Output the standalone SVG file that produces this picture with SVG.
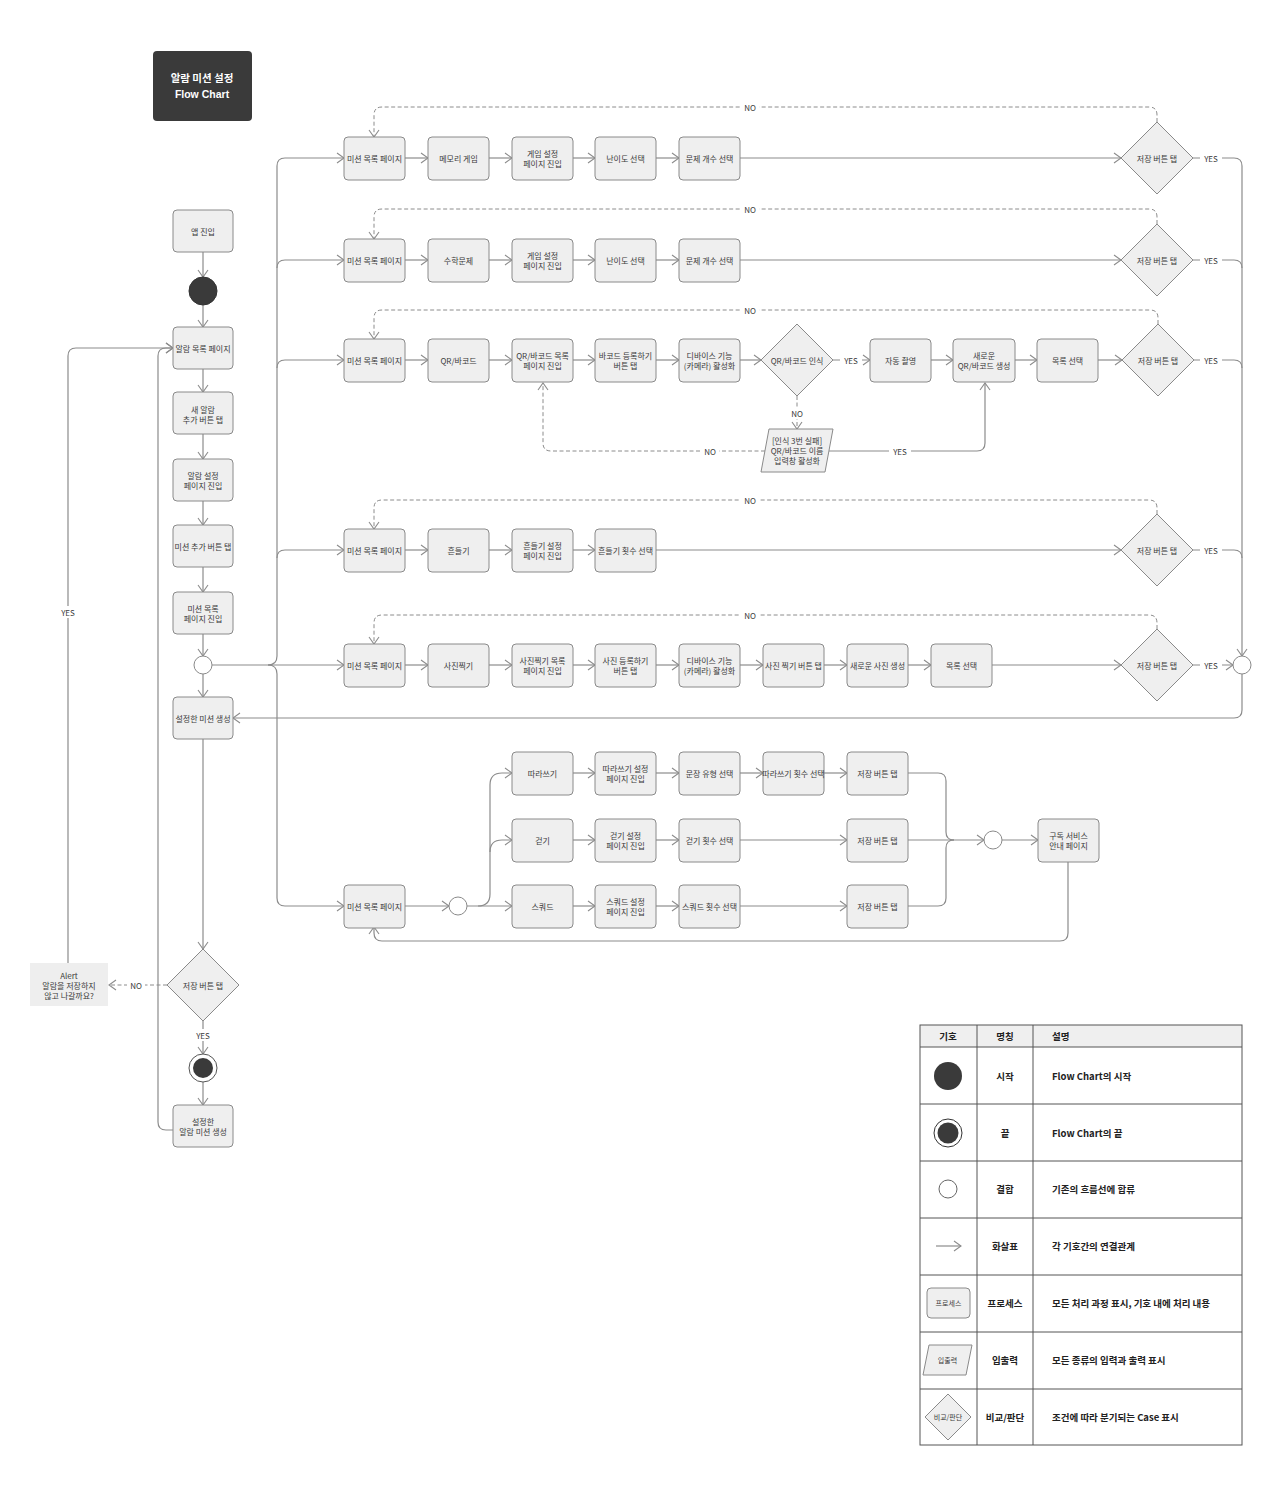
<svg xmlns="http://www.w3.org/2000/svg" width="1280" height="1496" viewBox="0 0 1280 1496">
<style>
text{font-family:"Noto Sans CJK KR","Noto Sans",sans-serif;fill:#3a3a3a;font-size:8px;text-anchor:middle;dominant-baseline:central}
.box{fill:#efefef;stroke:#8a8a8a;stroke-width:1}
.ln{fill:none;stroke:#8c8c8c;stroke-width:1.2}
.dl{fill:none;stroke:#8c8c8c;stroke-width:1;stroke-dasharray:4 2.5}
.lbl{fill:#fff}
.lg{font-size:9.5px;font-weight:600;fill:#222}
.lgl{font-size:9.5px;font-weight:600;fill:#222;text-anchor:start}
.tb{fill:none;stroke:#555;stroke-width:1}
</style>
<defs>
<marker id="a" markerUnits="userSpaceOnUse" markerWidth="9" markerHeight="12" viewBox="0 0 9 12" refX="8" refY="6" orient="auto"><path d="M1,1 L8,6 L1,11" fill="none" stroke="#8c8c8c" stroke-width="1.1"/></marker>
</defs>
<rect width="1280" height="1496" fill="#fff"/>

<g id="title"><rect x="153" y="51" width="99" height="70" rx="4" fill="#3a3a3a"/><text x="202" y="77" style="fill:#fff;font-size:10.5px;font-weight:700">알람 미션 설정</text><text x="202" y="94" style="fill:#fff;font-size:10.5px;font-weight:700;font-family:'Liberation Sans',sans-serif">Flow Chart</text></g>

<g id="connectors">
<!-- left column -->
<path class="ln" d="M203 252 V277" marker-end="url(#a)"/>
<path class="ln" d="M203 305 V327" marker-end="url(#a)"/>
<path class="ln" d="M203 369 V392" marker-end="url(#a)"/>
<path class="ln" d="M203 434 V459" marker-end="url(#a)"/>
<path class="ln" d="M203 501 V525" marker-end="url(#a)"/>
<path class="ln" d="M203 567 V592" marker-end="url(#a)"/>
<path class="ln" d="M203 634 V656" marker-end="url(#a)"/>
<path class="ln" d="M203 674 V697" marker-end="url(#a)"/>
<path class="ln" d="M203 739 V949" marker-end="url(#a)"/>
<path class="ln" d="M203 1021 V1054" marker-end="url(#a)"/>
<path class="ln" d="M203 1082 V1105" marker-end="url(#a)"/>
<path class="dl" d="M167 985 H109" marker-end="url(#a)"/>
<path class="ln" d="M68 963 V356 Q68 348 76 348 H173" marker-end="url(#a)"/>
<path class="ln" d="M173 1130 H166 Q158 1130 158 1122 V356 Q158 348 166 348 H173" marker-end="url(#a)"/>
<!-- trunk -->
<path class="ln" d="M212 665 H344" marker-end="url(#a)"/>
<path class="ln" d="M268 665 Q277 665 277 656 V166 Q277 158 285 158 H344" marker-end="url(#a)"/>
<path class="ln" d="M277 268 Q277 260 285 260 H344" marker-end="url(#a)"/>
<path class="ln" d="M277 368 Q277 360 285 360 H344" marker-end="url(#a)"/>
<path class="ln" d="M277 558 Q277 550 285 550 H344" marker-end="url(#a)"/>
<path class="ln" d="M268 665 Q277 665 277 674 V898 Q277 906 285 906 H344" marker-end="url(#a)"/>
<!-- row 1 -->
<path class="ln" d="M405 158 H428" marker-end="url(#a)"/>
<path class="ln" d="M489 158 H512" marker-end="url(#a)"/>
<path class="ln" d="M573 158 H595" marker-end="url(#a)"/>
<path class="ln" d="M656 158 H679" marker-end="url(#a)"/>
<path class="ln" d="M740 158 H1121" marker-end="url(#a)"/>
<path class="dl" d="M1157 122 V115 Q1157 107 1149 107 H382 Q374 107 374 115 V137" marker-end="url(#a)"/>
<!-- row 2 -->
<path class="ln" d="M405 260 H428" marker-end="url(#a)"/>
<path class="ln" d="M489 260 H512" marker-end="url(#a)"/>
<path class="ln" d="M573 260 H595" marker-end="url(#a)"/>
<path class="ln" d="M656 260 H679" marker-end="url(#a)"/>
<path class="ln" d="M740 260 H1121" marker-end="url(#a)"/>
<path class="dl" d="M1157 224 V217 Q1157 209 1149 209 H382 Q374 209 374 217 V239" marker-end="url(#a)"/>
<!-- row 3 -->
<path class="ln" d="M405 360 H428" marker-end="url(#a)"/>
<path class="ln" d="M489 360 H512" marker-end="url(#a)"/>
<path class="ln" d="M573 360 H595" marker-end="url(#a)"/>
<path class="ln" d="M656 360 H679" marker-end="url(#a)"/>
<path class="ln" d="M740 360 H761" marker-end="url(#a)"/>
<path class="ln" d="M833 360 H870" marker-end="url(#a)"/>
<path class="ln" d="M931 360 H953" marker-end="url(#a)"/>
<path class="ln" d="M1015 360 H1037" marker-end="url(#a)"/>
<path class="ln" d="M1098 360 H1122" marker-end="url(#a)"/>
<path class="dl" d="M1158 324 V318 Q1158 310 1150 310 H382 Q374 310 374 318 V339" marker-end="url(#a)"/>
<path class="dl" d="M797 396 V429" marker-end="url(#a)"/>
<path class="dl" d="M765 451 H551 Q543 451 543 443 V383" marker-end="url(#a)"/>
<path class="ln" d="M829 451 H977 Q985 451 985 443 V383" marker-end="url(#a)"/>
<!-- row 4 -->
<path class="ln" d="M405 550 H428" marker-end="url(#a)"/>
<path class="ln" d="M489 550 H512" marker-end="url(#a)"/>
<path class="ln" d="M573 550 H595" marker-end="url(#a)"/>
<path class="ln" d="M656 550 H1121" marker-end="url(#a)"/>
<path class="dl" d="M1157 514 V508 Q1157 500 1149 500 H382 Q374 500 374 508 V529" marker-end="url(#a)"/>
<!-- row 5 -->
<path class="ln" d="M405 665 H428" marker-end="url(#a)"/>
<path class="ln" d="M489 665 H512" marker-end="url(#a)"/>
<path class="ln" d="M573 665 H595" marker-end="url(#a)"/>
<path class="ln" d="M656 665 H679" marker-end="url(#a)"/>
<path class="ln" d="M740 665 H763" marker-end="url(#a)"/>
<path class="ln" d="M824 665 H847" marker-end="url(#a)"/>
<path class="ln" d="M908 665 H931" marker-end="url(#a)"/>
<path class="ln" d="M992 665 H1121" marker-end="url(#a)"/>
<path class="dl" d="M1157 629 V623 Q1157 615 1149 615 H382 Q374 615 374 623 V644" marker-end="url(#a)"/>
<!-- YES merges -->
<path class="ln" d="M1193 158 H1234 Q1242 158 1242 166 V656" marker-end="url(#a)"/>
<path class="ln" d="M1193 260 H1234 Q1242 260 1242 268"/>
<path class="ln" d="M1194 360 H1234 Q1242 360 1242 368"/>
<path class="ln" d="M1193 550 H1234 Q1242 550 1242 558"/>
<path class="ln" d="M1193 665 H1233" marker-end="url(#a)"/>
<path class="ln" d="M1242 674 V710 Q1242 718 1234 718 H233" marker-end="url(#a)"/>
<!-- bottom section -->
<path class="ln" d="M405 906 H449" marker-end="url(#a)"/>
<path class="ln" d="M467 906 H512" marker-end="url(#a)"/>
<path class="ln" d="M478 906 Q490 906 490 894 V785 Q490 773 502 773 H512" marker-end="url(#a)"/>
<path class="ln" d="M490 852 Q490 840 502 840 H512" marker-end="url(#a)"/>
<path class="ln" d="M573 773 H595" marker-end="url(#a)"/>
<path class="ln" d="M656 773 H679" marker-end="url(#a)"/>
<path class="ln" d="M740 773 H763" marker-end="url(#a)"/>
<path class="ln" d="M824 773 H847" marker-end="url(#a)"/>
<path class="ln" d="M573 840 H595" marker-end="url(#a)"/>
<path class="ln" d="M656 840 H679" marker-end="url(#a)"/>
<path class="ln" d="M740 840 H847" marker-end="url(#a)"/>
<path class="ln" d="M573 906 H595" marker-end="url(#a)"/>
<path class="ln" d="M656 906 H679" marker-end="url(#a)"/>
<path class="ln" d="M740 906 H847" marker-end="url(#a)"/>
<path class="ln" d="M908 773 H938 Q946 773 946 781 V832 Q946 840 954 840"/>
<path class="ln" d="M908 906 H938 Q946 906 946 898 V848 Q946 840 954 840"/>
<path class="ln" d="M908 840 H984" marker-end="url(#a)"/>
<path class="ln" d="M1002 840 H1038" marker-end="url(#a)"/>
<path class="ln" d="M1068 861 V933 Q1068 941 1060 941 H382 Q374 941 374 933 V927" marker-end="url(#a)"/>
<!-- labels -->
<g>
<rect class="lbl" x="741" y="102" width="18" height="10"/><text x="750" y="107">NO</text>
<rect class="lbl" x="741" y="204" width="18" height="10"/><text x="750" y="209">NO</text>
<rect class="lbl" x="741" y="305" width="18" height="10"/><text x="750" y="310">NO</text>
<rect class="lbl" x="741" y="495" width="18" height="10"/><text x="750" y="500">NO</text>
<rect class="lbl" x="741" y="610" width="18" height="10"/><text x="750" y="615">NO</text>
<rect class="lbl" x="1200" y="153" width="22" height="10"/><text x="1211" y="158">YES</text>
<rect class="lbl" x="1200" y="255" width="22" height="10"/><text x="1211" y="260">YES</text>
<rect class="lbl" x="1200" y="355" width="22" height="10"/><text x="1211" y="360">YES</text>
<rect class="lbl" x="1200" y="545" width="22" height="10"/><text x="1211" y="550">YES</text>
<rect class="lbl" x="1200" y="660" width="22" height="10"/><text x="1211" y="665">YES</text>
<rect class="lbl" x="840" y="355" width="22" height="10"/><text x="851" y="360">YES</text>
<rect class="lbl" x="788" y="407" width="18" height="12"/><text x="797" y="413">NO</text>
<rect class="lbl" x="701" y="446" width="18" height="10"/><text x="710" y="451">NO</text>
<rect class="lbl" x="889" y="446" width="22" height="10"/><text x="900" y="451">YES</text>
<rect class="lbl" x="57" y="606" width="22" height="12"/><text x="68" y="612">YES</text>
<rect class="lbl" x="127" y="980" width="18" height="10"/><text x="136" y="985">NO</text>
<rect class="lbl" x="191" y="1029" width="24" height="12"/><text x="203" y="1035">YES</text>
</g>
</g>

<!-- left column nodes -->
<g id="app-entry"><rect class="box" x="173" y="210" width="60" height="42" rx="4"/><text x="203" y="231">앱 진입</text></g>
<g id="start"><circle cx="203" cy="291" r="14" fill="#3a3a3a" stroke="#333"/></g>
<g id="alarm-list"><rect class="box" x="173" y="327" width="60" height="42" rx="4"/><text x="203" y="348">알람 목록 페이지</text></g>
<g id="new-alarm"><rect class="box" x="173" y="392" width="60" height="42" rx="4"/><text x="203" y="409">새 알람</text><text x="203" y="419">추가 버튼 탭</text></g>
<g id="alarm-setting"><rect class="box" x="173" y="459" width="60" height="42" rx="4"/><text x="203" y="475">알람 설정</text><text x="203" y="485">페이지 진입</text></g>
<g id="add-mission"><rect class="box" x="173" y="525" width="60" height="42" rx="4"/><text x="203" y="546">미션 추가 버튼 탭</text></g>
<g id="mission-list-entry"><rect class="box" x="173" y="592" width="60" height="42" rx="4"/><text x="203" y="608">미션 목록</text><text x="203" y="618">페이지 진입</text></g>
<g id="junction-left"><circle cx="203" cy="665" r="9" fill="#fff" stroke="#8a8a8a"/></g>
<g id="mission-created"><rect class="box" x="173" y="697" width="60" height="42" rx="4"/><text x="203" y="718">설정한 미션 생성</text></g>
<g id="save-main"><polygon class="box" points="203,949 239,985 203,1021 167,985" stroke-linejoin="round"/><text x="203" y="985">저장 버튼 탭</text></g>
<g id="alert"><rect x="30" y="963" width="78" height="43" fill="#eeeeee"/><text x="69" y="975">Alert</text><text x="69" y="985">알람을 저장하지</text><text x="69" y="995">않고 나갈까요?</text></g>
<g id="end"><circle cx="203" cy="1068" r="14" fill="#fff" stroke="#555"/><circle cx="203" cy="1068" r="10" fill="#3a3a3a"/></g>
<g id="alarm-mission-created"><rect class="box" x="173" y="1105" width="60" height="42" rx="4"/><text x="203" y="1121">설정한</text><text x="203" y="1131">알람 미션 생성</text></g>

<!-- row 1 -->
<g id="r1-list"><rect class="box" x="344" y="137" width="61" height="43" rx="4"/><text x="374.5" y="158">미션 목록 페이지</text></g>
<g id="r1-memory"><rect class="box" x="428" y="137" width="61" height="43" rx="4"/><text x="458.5" y="158">메모리 게임</text></g>
<g id="r1-setting"><rect class="box" x="512" y="137" width="61" height="43" rx="4"/><text x="542.5" y="153">게임 설정</text><text x="542.5" y="163">페이지 진입</text></g>
<g id="r1-level"><rect class="box" x="595" y="137" width="61" height="43" rx="4"/><text x="625.5" y="158">난이도 선택</text></g>
<g id="r1-count"><rect class="box" x="679" y="137" width="61" height="43" rx="4"/><text x="709.5" y="158">문제 개수 선택</text></g>
<g id="r1-save"><polygon class="box" points="1157,122 1193,158 1157,194 1121,158" stroke-linejoin="round"/><text x="1157" y="158">저장 버튼 탭</text></g>

<!-- row 2 -->
<g id="r2-list"><rect class="box" x="344" y="239" width="61" height="43" rx="4"/><text x="374.5" y="260">미션 목록 페이지</text></g>
<g id="r2-math"><rect class="box" x="428" y="239" width="61" height="43" rx="4"/><text x="458.5" y="260">수학문제</text></g>
<g id="r2-setting"><rect class="box" x="512" y="239" width="61" height="43" rx="4"/><text x="542.5" y="255">게임 설정</text><text x="542.5" y="265">페이지 진입</text></g>
<g id="r2-level"><rect class="box" x="595" y="239" width="61" height="43" rx="4"/><text x="625.5" y="260">난이도 선택</text></g>
<g id="r2-count"><rect class="box" x="679" y="239" width="61" height="43" rx="4"/><text x="709.5" y="260">문제 개수 선택</text></g>
<g id="r2-save"><polygon class="box" points="1157,224 1193,260 1157,296 1121,260" stroke-linejoin="round"/><text x="1157" y="260">저장 버튼 탭</text></g>

<!-- row 3 -->
<g id="r3-list"><rect class="box" x="344" y="339" width="61" height="43" rx="4"/><text x="374.5" y="360">미션 목록 페이지</text></g>
<g id="r3-qr"><rect class="box" x="428" y="339" width="61" height="43" rx="4"/><text x="458.5" y="360">QR/바코드</text></g>
<g id="r3-qrlist"><rect class="box" x="512" y="339" width="61" height="43" rx="4"/><text x="542.5" y="355">QR/바코드 목록</text><text x="542.5" y="365">페이지 진입</text></g>
<g id="r3-register"><rect class="box" x="595" y="339" width="61" height="43" rx="4"/><text x="625.5" y="355">바코드 등록하기</text><text x="625.5" y="365">버튼 탭</text></g>
<g id="r3-camera"><rect class="box" x="679" y="339" width="61" height="43" rx="4"/><text x="709.5" y="355">디바이스 기능</text><text x="709.5" y="365">(카메라) 활성화</text></g>
<g id="r3-recognize"><polygon class="box" points="797,324 833,360 797,396 761,360" stroke-linejoin="round"/><text x="797" y="360">QR/바코드 인식</text></g>
<g id="r3-auto"><rect class="box" x="870" y="339" width="61" height="43" rx="4"/><text x="900.5" y="360">자동 촬영</text></g>
<g id="r3-new"><rect class="box" x="953" y="339" width="62" height="43" rx="4"/><text x="984" y="355">새로운</text><text x="984" y="365">QR/바코드 생성</text></g>
<g id="r3-select"><rect class="box" x="1037" y="339" width="61" height="43" rx="4"/><text x="1067.5" y="360">목록 선택</text></g>
<g id="r3-save"><polygon class="box" points="1158,324 1194,360 1158,396 1122,360" stroke-linejoin="round"/><text x="1158" y="360">저장 버튼 탭</text></g>
<g id="r3-input"><polygon class="box" points="769,429 833,429 825,472 761,472" stroke-linejoin="round"/><text x="797" y="440">[인식 3번 실패]</text><text x="797" y="450">QR/바코드 이름</text><text x="797" y="460">입력창 활성화</text></g>

<!-- row 4 -->
<g id="r4-list"><rect class="box" x="344" y="529" width="61" height="43" rx="4"/><text x="374.5" y="550">미션 목록 페이지</text></g>
<g id="r4-shake"><rect class="box" x="428" y="529" width="61" height="43" rx="4"/><text x="458.5" y="550">흔들기</text></g>
<g id="r4-setting"><rect class="box" x="512" y="529" width="61" height="43" rx="4"/><text x="542.5" y="545">흔들기 설정</text><text x="542.5" y="555">페이지 진입</text></g>
<g id="r4-count"><rect class="box" x="595" y="529" width="61" height="43" rx="4"/><text x="625.5" y="550">흔들기 횟수 선택</text></g>
<g id="r4-save"><polygon class="box" points="1157,514 1193,550 1157,586 1121,550" stroke-linejoin="round"/><text x="1157" y="550">저장 버튼 탭</text></g>

<!-- row 5 -->
<g id="r5-list"><rect class="box" x="344" y="644" width="61" height="43" rx="4"/><text x="374.5" y="665">미션 목록 페이지</text></g>
<g id="r5-photo"><rect class="box" x="428" y="644" width="61" height="43" rx="4"/><text x="458.5" y="665">사진찍기</text></g>
<g id="r5-photolist"><rect class="box" x="512" y="644" width="61" height="43" rx="4"/><text x="542.5" y="660">사진찍기 목록</text><text x="542.5" y="670">페이지 진입</text></g>
<g id="r5-register"><rect class="box" x="595" y="644" width="61" height="43" rx="4"/><text x="625.5" y="660">사진 등록하기</text><text x="625.5" y="670">버튼 탭</text></g>
<g id="r5-camera"><rect class="box" x="679" y="644" width="61" height="43" rx="4"/><text x="709.5" y="660">디바이스 기능</text><text x="709.5" y="670">(카메라) 활성화</text></g>
<g id="r5-shoot"><rect class="box" x="763" y="644" width="61" height="43" rx="4"/><text x="793.5" y="665">사진 찍기 버튼 탭</text></g>
<g id="r5-new"><rect class="box" x="847" y="644" width="61" height="43" rx="4"/><text x="877.5" y="665">새로운 사진 생성</text></g>
<g id="r5-select"><rect class="box" x="931" y="644" width="61" height="43" rx="4"/><text x="961.5" y="665">목록 선택</text></g>
<g id="r5-save"><polygon class="box" points="1157,629 1193,665 1157,701 1121,665" stroke-linejoin="round"/><text x="1157" y="665">저장 버튼 탭</text></g>
<g id="junction-right"><circle cx="1242" cy="665" r="9" fill="#fff" stroke="#8a8a8a"/></g>

<!-- bottom section -->
<g id="b-list"><rect class="box" x="344" y="885" width="61" height="43" rx="4"/><text x="374.5" y="906">미션 목록 페이지</text></g>
<g id="b-junction"><circle cx="458" cy="906" r="9" fill="#fff" stroke="#8a8a8a"/></g>
<g id="ba-write"><rect class="box" x="512" y="752" width="61" height="43" rx="4"/><text x="542.5" y="773">따라쓰기</text></g>
<g id="ba-setting"><rect class="box" x="595" y="752" width="61" height="43" rx="4"/><text x="625.5" y="768">따라쓰기 설정</text><text x="625.5" y="778">페이지 진입</text></g>
<g id="ba-type"><rect class="box" x="679" y="752" width="61" height="43" rx="4"/><text x="709.5" y="773">문장 유형 선택</text></g>
<g id="ba-count"><rect class="box" x="763" y="752" width="61" height="43" rx="4"/><text x="793.5" y="773">따라쓰기 횟수 선택</text></g>
<g id="ba-save"><rect class="box" x="847" y="752" width="61" height="43" rx="4"/><text x="877.5" y="773">저장 버튼 탭</text></g>
<g id="bb-walk"><rect class="box" x="512" y="819" width="61" height="43" rx="4"/><text x="542.5" y="840">걷기</text></g>
<g id="bb-setting"><rect class="box" x="595" y="819" width="61" height="43" rx="4"/><text x="625.5" y="835">걷기 설정</text><text x="625.5" y="845">페이지 진입</text></g>
<g id="bb-count"><rect class="box" x="679" y="819" width="61" height="43" rx="4"/><text x="709.5" y="840">걷기 횟수 선택</text></g>
<g id="bb-save"><rect class="box" x="847" y="819" width="61" height="43" rx="4"/><text x="877.5" y="840">저장 버튼 탭</text></g>
<g id="bc-squat"><rect class="box" x="512" y="885" width="61" height="43" rx="4"/><text x="542.5" y="906">스쿼드</text></g>
<g id="bc-setting"><rect class="box" x="595" y="885" width="61" height="43" rx="4"/><text x="625.5" y="901">스쿼드 설정</text><text x="625.5" y="911">페이지 진입</text></g>
<g id="bc-count"><rect class="box" x="679" y="885" width="61" height="43" rx="4"/><text x="709.5" y="906">스쿼드 횟수 선택</text></g>
<g id="bc-save"><rect class="box" x="847" y="885" width="61" height="43" rx="4"/><text x="877.5" y="906">저장 버튼 탭</text></g>
<g id="b-merge"><circle cx="993" cy="840" r="9" fill="#fff" stroke="#8a8a8a"/></g>
<g id="b-subscribe"><rect class="box" x="1038" y="819" width="61" height="43" rx="4"/><text x="1068.5" y="835">구독 서비스</text><text x="1068.5" y="845">안내 페이지</text></g>

<!-- legend -->
<g id="legend">
<rect x="920" y="1025" width="322" height="22" fill="#efefef"/>
<rect class="tb" x="920" y="1025" width="322" height="420"/>
<path class="tb" d="M977 1025 V1445 M1033 1025 V1445 M920 1047 H1242 M920 1104 H1242 M920 1161 H1242 M920 1218 H1242 M920 1275 H1242 M920 1332 H1242 M920 1389 H1242"/>
<text class="lg" x="948" y="1036">기호</text><text class="lg" x="1005" y="1036">명칭</text><text class="lgl" x="1052" y="1036">설명</text>
<circle cx="948" cy="1076" r="14" fill="#3a3a3a"/>
<text class="lg" x="1005" y="1076">시작</text><text class="lgl" x="1052" y="1076">Flow Chart의 시작</text>
<circle cx="948" cy="1133" r="14" fill="#fff" stroke="#333"/><circle cx="948" cy="1133" r="10.5" fill="#3a3a3a"/>
<text class="lg" x="1005" y="1133">끝</text><text class="lgl" x="1052" y="1133">Flow Chart의 끝</text>
<circle cx="948" cy="1189" r="9" fill="#fff" stroke="#666"/>
<text class="lg" x="1005" y="1189">결합</text><text class="lgl" x="1052" y="1189">기존의 흐름선에 합류</text>
<path class="ln" d="M936 1246 H961" marker-end="url(#a)"/>
<text class="lg" x="1005" y="1246">화살표</text><text class="lgl" x="1052" y="1246">각 기호간의 연결관계</text>
<rect class="box" x="927" y="1288" width="43" height="30" rx="4"/><text x="948.5" y="1303" style="font-size:7px">프로세스</text>
<text class="lg" x="1005" y="1303">프로세스</text><text class="lgl" x="1052" y="1303">모든 처리 과정 표시, 기호 내에 처리 내용</text>
<polygon class="box" points="929,1345 972,1345 966,1375 923,1375"/><text x="947.5" y="1360" style="font-size:7px">입출력</text>
<text class="lg" x="1005" y="1360">입출력</text><text class="lgl" x="1052" y="1360">모든 종류의 입력과 출력 표시</text>
<polygon class="box" points="948,1394 971,1417 948,1440 925,1417" stroke-linejoin="round"/><text x="948" y="1417" style="font-size:7px">비교/판단</text>
<text class="lg" x="1005" y="1417">비교/판단</text><text class="lgl" x="1052" y="1417">조건에 따라 분기되는 Case 표시</text>
</g>
</svg>
